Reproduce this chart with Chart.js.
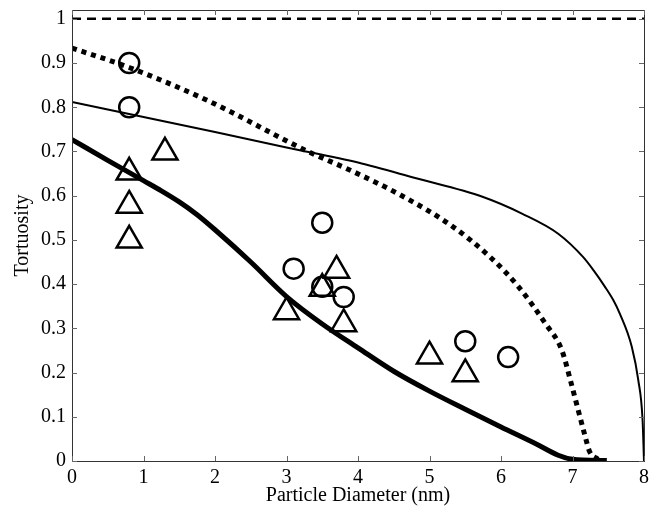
<!DOCTYPE html>
<html>
<head>
<meta charset="utf-8">
<script src="https://cdn.jsdelivr.net/npm/chart.js@4"></script>
<style>
  html, body { margin: 0; padding: 0; background: #fff; }
  #wrap { width: 656px; height: 512px; }
</style>
</head>
<body>
<div id="wrap"><canvas id="chart" width="656" height="512"></canvas></div>
<script>
// Reference line
const refX = [0, 8]
const refY = [1, 1]

// Thin solid curve
const thinX = [0, 1, 2, 3, 4, 4.8, 5.75, 6.3, 6.8, 7.15, 7.3, 7.45, 7.57, 7.66, 7.83, 7.92, 7.98, 8.0]
const thinY = [0.812, 0.778, 0.744, 0.709, 0.675, 0.640, 0.597, 0.559, 0.514, 0.461, 0.430, 0.395, 0.364, 0.334, 0.258, 0.183, 0.093, 0]

// Thick dotted curve
const dotX = [0, 0.8, 1.9, 3.3, 3.9, 4.6, 5.3, 5.85, 6.24, 6.62, 6.85, 6.97, 7.08, 7.17, 7.24, 7.35, 7.45]
const dotY = [0.934, 0.89, 0.815, 0.70, 0.657, 0.601, 0.533, 0.461, 0.395, 0.311, 0.251, 0.183, 0.115, 0.06, 0.021, 0.005, 0]

// Thick solid curve
const thickX = [0, 0.5, 1.0, 1.25, 1.5, 1.75, 2.0, 2.5, 3.0, 3.5, 4.0, 4.5, 5.0, 5.5, 6.0, 6.5, 6.8, 7.0, 7.48]
const thickY = [0.727, 0.68, 0.634, 0.611, 0.586, 0.557, 0.523, 0.450, 0.372, 0.310, 0.256, 0.203, 0.158, 0.117, 0.077, 0.038, 0.013, 0.004, 0.001]

// Measured points
const circX = [0.8, 0.8, 3.1, 3.5, 3.5, 3.8, 5.5, 6.1]
const circY = [0.9, 0.8, 0.435, 0.539, 0.394, 0.371, 0.271, 0.235]
const triX = [0.8, 0.8, 0.8, 1.3, 3.0, 3.5, 3.7, 3.8, 5.0, 5.5]
const triY = [0.653, 0.578, 0.499, 0.698, 0.337, 0.390, 0.431, 0.310, 0.237, 0.197]

const xTicks = [0, 1, 2, 3, 4, 5, 6, 7, 8]
const yTicks = [0, 0.1, 0.2, 0.3, 0.4, 0.5, 0.6, 0.7, 0.8, 0.9, 1]

const pts = (xs, ys) => xs.map((x, i) => ({ x: x, y: ys[i] }))
const font = { family: 'Liberation Serif', size: 20 }

// MATLAB-like box with inward ticks on all four sides
const boxPlugin = {
  id: 'box',
  afterDraw (chart) {
    const ctx = chart.ctx
    const a = chart.chartArea
    const xs = chart.scales.x
    const ys = chart.scales.y
    ctx.save()
    ctx.strokeStyle = '#333'
    ctx.lineWidth = 1
    ctx.strokeRect(a.left + 0.5, a.top + 0.5, a.right - a.left, a.bottom - a.top)
    ctx.strokeStyle = '#666'
    ctx.beginPath()
    for (const v of xTicks) {
      const px = Math.round(xs.getPixelForValue(v)) + 0.5
      ctx.moveTo(px, a.bottom); ctx.lineTo(px, a.bottom - 5)
      ctx.moveTo(px, a.top); ctx.lineTo(px, a.top + 5)
    }
    for (const v of yTicks) {
      const py = Math.round(ys.getPixelForValue(v)) + 0.5
      ctx.moveTo(a.left, py); ctx.lineTo(a.left + 5, py)
      ctx.moveTo(a.right, py); ctx.lineTo(a.right - 5, py)
    }
    ctx.stroke()
    ctx.restore()
  }
}

new Chart(document.getElementById('chart'), {
  type: 'line',
  data: {
    datasets: [
      {
        type: 'scatter', data: pts(circX, circY), pointStyle: 'circle',
        pointRadius: 10, pointBorderWidth: 2.5, pointBorderColor: '#000',
        pointBackgroundColor: 'rgba(0,0,0,0)', showLine: false
      },
      {
        type: 'scatter', data: pts(triX, triY), pointStyle: 'triangle',
        pointRadius: 14.5, pointBorderWidth: 2.5, pointBorderColor: '#000',
        pointBackgroundColor: 'rgba(0,0,0,0)', showLine: false
      },
      {
        data: pts(refX, refY), borderColor: '#000', borderWidth: 2.5,
        borderDash: [9, 6], pointRadius: 0
      },
      {
        data: pts(thinX, thinY), borderColor: '#000', borderWidth: 2,
        cubicInterpolationMode: 'monotone', pointRadius: 0
      },
      {
        data: pts(dotX, dotY), borderColor: '#000', borderWidth: 5,
        borderDash: [5, 5], cubicInterpolationMode: 'monotone', pointRadius: 0
      },
      {
        data: pts(thickX, thickY), borderColor: '#000', borderWidth: 5,
        cubicInterpolationMode: 'monotone', pointRadius: 0
      }
    ]
  },
  options: {
    responsive: false,
    animation: false,
    layout: { autoPadding: false, padding: { top: 10, right: 12, left: 0, bottom: 0 } },
    plugins: { legend: { display: false }, tooltip: { enabled: false } },
    scales: {
      x: {
        type: 'linear', min: 0, max: 8,
        afterFit (s) { s.height = 51; s.paddingLeft = 0; s.paddingRight = 0 },
        afterBuildTicks (s) { s.ticks = xTicks.map(v => ({ value: v })) },
        grid: { display: false, drawTicks: false },
        border: { display: false },
        ticks: { color: '#000', font: font, padding: 5, maxRotation: 0, callback: v => String(v) },
        title: { display: true, text: 'Particle Diameter (nm)', color: '#000', font: font, padding: { top: 0, bottom: 4 } }
      },
      y: {
        type: 'linear', min: 0, max: 1.02,
        afterFit (s) { s.width = 72; s.paddingTop = 0; s.paddingBottom = 0 },
        afterBuildTicks (s) { s.ticks = yTicks.map(v => ({ value: v })) },
        grid: { display: false, drawTicks: false },
        border: { display: false },
        ticks: { color: '#000', font: font, padding: 6, callback: v => String(Math.round(v * 10) / 10) },
        title: { display: true, text: 'Tortuosity', color: '#000', font: font, padding: { top: 11, bottom: 0 } }
      }
    }
  },
  plugins: [boxPlugin]
})
</script>
</body>
</html>
